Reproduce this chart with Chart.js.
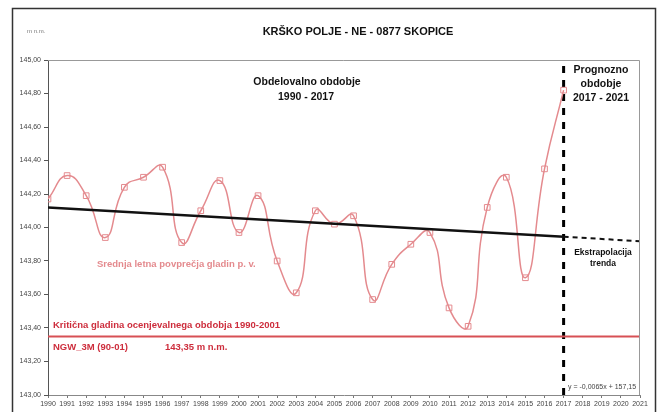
<!DOCTYPE html>
<html lang="sl">
<head>
<meta charset="UTF-8">
<title>KRŠKO POLJE - NE - 0877 SKOPICE</title>
<script src="https://cdn.jsdelivr.net/npm/chart.js"></script>
<style>
    html, body { margin: 0; padding: 0; background: #fff; }
    #wrap { width: 661px; height: 412px; position: relative; }
</style>
</head>
<body>
<div id="wrap"><canvas id="chart" width="661" height="412"></canvas></div>
<script>
// years and mean annual groundwater levels (m n.m.)
const years = [1990, 1991, 1992, 1993, 1994, 1995, 1996, 1997, 1998, 1999,
               2000, 2001, 2002, 2003, 2004, 2005, 2006, 2007, 2008, 2009,
               2010, 2011, 2012, 2013, 2014, 2015, 2016, 2017];
const levels = [144.17, 144.31, 144.19, 143.94, 144.24, 144.30, 144.36, 143.91, 144.10, 144.28,
                143.97, 144.19, 143.80, 143.61, 144.10, 144.02, 144.07, 143.57, 143.78, 143.90,
                143.97, 143.52, 143.41, 144.12, 144.30, 143.70, 144.35, 144.82];

// linear trend read at its ends, and the forecast extension
const trendYears = [1990, 2017];
const trendValues = [144.12, 143.945];
const extYears = [2017, 2021];
const extValues = [143.945, 143.918];

// critical level and forecast boundary
const criticalLevel = 143.35;
const forecastYear = 2017;

const xMin = 1990, xMax = 2021;
const yMin = 143, yMax = 145;

const pink = 'rgb(228,138,142)';
const red = 'rgb(205,45,60)';

function pts(xs, ys) { return xs.map((x, i) => ({ x: x, y: ys[i] })); }

const frame = {
    id: 'frame',
    beforeDraw(chart) {
        const c = chart.ctx;
        c.save();
        c.fillStyle = '#fff';
        c.fillRect(0, 0, chart.width, chart.height);
        c.strokeStyle = '#333';
        c.lineWidth = 1.5;
        c.beginPath();
        c.moveTo(12.5, 414); c.lineTo(12.5, 8.5); c.lineTo(655.5, 8.5); c.lineTo(655.5, 414);
        c.stroke();
        c.restore();
    },
    afterDatasetsDraw(chart) {
        const c = chart.ctx, a = chart.chartArea;
        c.save();
        c.strokeStyle = '#999';
        c.lineWidth = 1;
        c.beginPath();
        c.moveTo(a.left, a.top + 0.5); c.lineTo(a.right - 0.5, a.top + 0.5); c.lineTo(a.right - 0.5, a.bottom);
        c.stroke();

        c.textBaseline = 'middle';
        c.fillStyle = '#777';
        c.font = '6px "Liberation Sans", Arial, sans-serif';
        c.textAlign = 'left';
        c.fillText('m n.m.', 27, 31);

        c.fillStyle = '#111';
        c.font = 'bold 11px "Liberation Sans", Arial, sans-serif';
        c.textAlign = 'center';
        c.fillText('KRŠKO POLJE - NE - 0877 SKOPICE', 358, 32);

        c.font = 'bold 10.5px "Liberation Sans", Arial, sans-serif';
        c.fillText('Obdelovalno obdobje', 307, 82);
        c.fillText('1990 - 2017', 306, 97);
        c.fillText('Prognozno', 601, 70);
        c.fillText('obdobje', 601, 84);
        c.fillText('2017 - 2021', 601, 98);

        c.font = 'bold 8.5px "Liberation Sans", Arial, sans-serif';
        c.fillText('Ekstrapolacija', 603, 253);
        c.fillText('trenda', 603, 264);

        c.textAlign = 'left';
        c.fillStyle = pink;
        c.font = 'bold 9.5px "Liberation Sans", Arial, sans-serif';
        c.fillText('Srednja letna povprečja gladin p. v.', 97, 264);

        c.fillStyle = red;
        c.fillText('Kritična gladina ocenjevalnega obdobja 1990-2001', 53, 325);
        c.fillText('NGW_3M (90-01)', 53, 347);
        c.fillText('143,35 m n.m.', 165, 347);

        c.fillStyle = '#444';
        c.font = '7px "Liberation Sans", Arial, sans-serif';
        c.fillText('y = -0,0065x + 157,15', 568, 387);
        c.restore();
    }
};

new Chart(document.getElementById('chart').getContext('2d'), {
    type: 'line',
    data: {
        datasets: [
            {
                data: [{ x: xMin, y: criticalLevel }, { x: xMax, y: criticalLevel }],
                borderColor: 'rgb(215,80,85)', borderWidth: 2, pointRadius: 0, tension: 0
            },
            {
                data: pts(trendYears, trendValues),
                borderColor: '#111', borderWidth: 2.5, pointRadius: 0, tension: 0
            },
            {
                data: pts(extYears, extValues),
                borderColor: '#111', borderWidth: 2, borderDash: [5, 4], pointRadius: 0, tension: 0
            },
            {
                data: pts(years, levels),
                borderColor: pink, borderWidth: 1.5, tension: 0.5,
                pointStyle: 'rect', pointRadius: 4, pointBorderWidth: 1,
                pointBackgroundColor: 'rgba(255,255,255,0)', pointBorderColor: pink
            },
            {
                data: [{ x: forecastYear, y: yMin }, { x: forecastYear, y: yMax }],
                borderColor: '#000', borderWidth: 3, borderDash: [7, 7], pointRadius: 0, tension: 0
            }
        ]
    },
    options: {
        responsive: false,
        animation: false,
        layout: { padding: { left: 0, right: 21, top: 60, bottom: 0 } },
        plugins: { legend: { display: false }, title: { display: false }, tooltip: { enabled: false } },
        scales: {
            x: {
                type: 'linear', min: xMin, max: xMax,
                afterFit(s) { s.height = 17; },
                ticks: {
                    stepSize: 1, autoSkip: false, maxRotation: 0, padding: 2,
                    color: '#444', font: { size: 7, family: '"Liberation Sans", Arial, sans-serif' },
                    callback: v => String(v)
                },
                grid: { drawOnChartArea: false, drawTicks: true, tickLength: 3, color: '#777' },
                border: { color: '#888' }
            },
            y: {
                min: yMin, max: yMax,
                afterFit(s) { s.width = 48; },
                ticks: {
                    stepSize: 0.2, padding: 3,
                    color: '#444', font: { size: 7, family: '"Liberation Sans", Arial, sans-serif' },
                    callback: v => v.toFixed(2).replace('.', ',')
                },
                grid: { drawOnChartArea: false, drawTicks: true, tickLength: 4, color: '#555' },
                border: { color: '#555' }
            }
        }
    },
    plugins: [frame]
});
</script>
</body>
</html>
